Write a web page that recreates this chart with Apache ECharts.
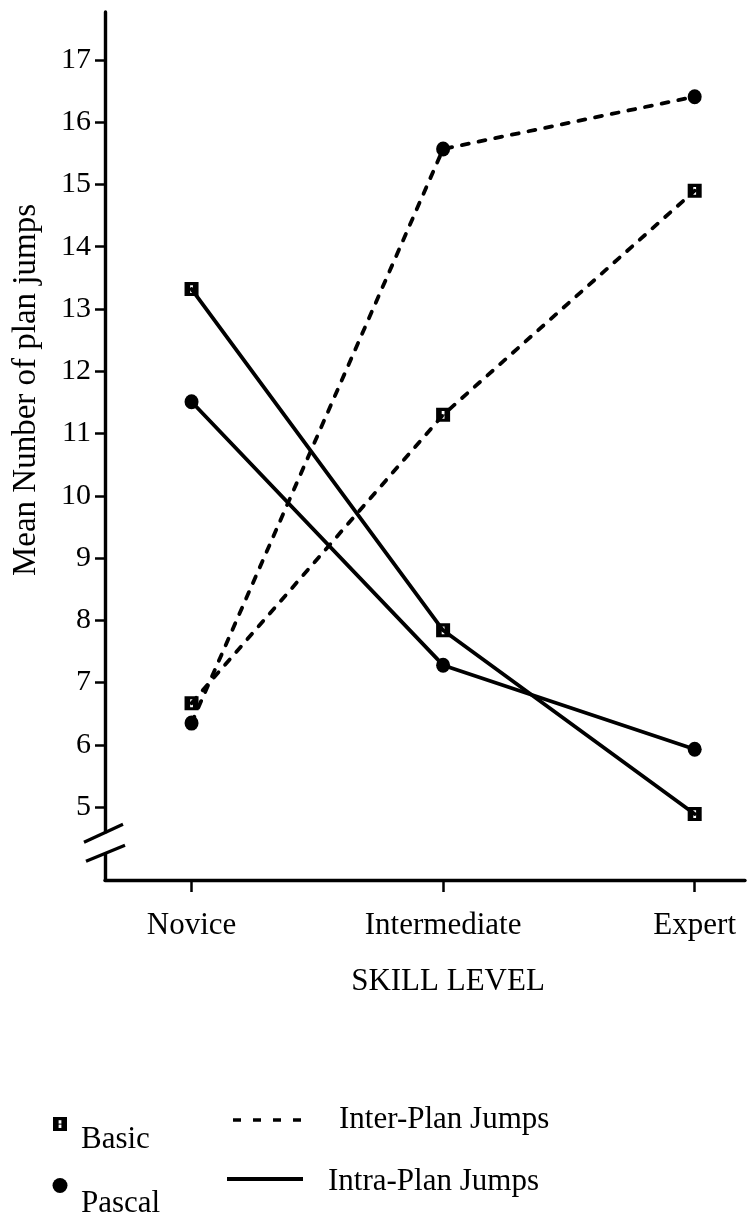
<!DOCTYPE html>
<html>
<head>
<meta charset="utf-8">
<script src="https://cdn.jsdelivr.net/npm/echarts@6/dist/echarts.min.js"></script>
<style>
  html, body { margin: 0; padding: 0; background: #fff; }
  #chart { width: 748px; height: 1231px; }
</style>
</head>
<body>
<div id="chart"></div>
<script>
// Skill levels on the horizontal axis
const skillLevels = ['Novice', 'Intermediate', 'Expert'];

// Mean number of plan jumps per skill level
const basicInter = [6.67, 11.3, 14.9];
const pascalInter = [6.35, 15.57, 16.41];
const basicIntra = [13.32, 7.84, 4.89];
const pascalIntra = [11.51, 7.28, 5.93];

// Labelled ticks on the vertical axis
const yTicks = [5, 6, 7, 8, 9, 10, 11, 12, 13, 14, 15, 16, 17];
const xTicks = [0, 1, 2];

const FONT = '"Liberation Serif", "Times New Roman", serif';
const INK = '#000';

const toPoints = (values) => values.map((v, i) => [i, v]);

// Square marker with a small hollow mark inside
const basicSymbol = 'path://M0,0H14V14H0Z M5.6,3.2V6.6H8.4V3.2Z M5.6,7.6V11H8.4V7.6Z';

const chart = echarts.init(document.getElementById('chart'), null, { renderer: 'canvas' });

function lineSeries(name, values, dashed, symbol) {
  const isBasic = symbol === 'basic';
  return {
    name: name,
    type: 'line',
    data: toPoints(values),
    symbol: isBasic ? basicSymbol : 'circle',
    symbolSize: isBasic ? [14, 14] : [14, 15],
    symbolKeepAspect: false,
    showAllSymbol: true,
    z: 3,
    lineStyle: { color: INK, width: 3.8, type: dashed ? [7, 10] : 'solid', cap: 'round' },
    itemStyle: { color: INK, borderWidth: 0 },
    emphasis: { disabled: true },
    animation: false
  };
}

const option = {
  backgroundColor: '#fff',
  animation: false,
  grid: { left: 105, right: 3, top: 12, bottom: 351, containLabel: false, outerBoundsMode: 'none' },
  xAxis: {
    type: 'value',
    min: -0.344,
    max: 2.2,
    axisLine: { show: true, onZero: false, lineStyle: { color: INK, width: 3.4 } },
    axisTick: { show: true, customValues: xTicks, length: 12, lineStyle: { color: INK, width: 2.5 } },
    axisLabel: {
      show: true,
      customValues: xTicks,
      formatter: (v) => skillLevels[Math.round(v)],
      color: INK, fontFamily: FONT, fontSize: 31, margin: 30
    },
    splitLine: { show: false },
    name: 'SKILL LEVEL',
    nameLocation: 'middle',
    nameGap: 86,
    nameTextStyle: { color: INK, fontFamily: FONT, fontSize: 31, padding: [0, 0, 0, 46] }
  },
  yAxis: {
    type: 'value',
    min: 3.83,
    max: 17.77,
    axisLine: { show: true, onZero: false, lineStyle: { color: INK, width: 3.4 } },
    axisTick: { show: true, customValues: yTicks, length: 10, lineStyle: { color: INK, width: 2.5 } },
    axisLabel: {
      show: true,
      customValues: yTicks,
      color: INK, fontFamily: FONT, fontSize: 30, margin: 14,
      padding: [0, 0, 8, 0]
    },
    splitLine: { show: false },
    name: 'Mean Nunber of plan jumps',
    nameLocation: 'middle',
    nameRotate: 90,
    nameGap: 62,
    nameTextStyle: { color: INK, fontFamily: FONT, fontSize: 33, padding: [0, 0, 0, 112] }
  },
  series: [
    lineSeries('Basic Inter-Plan Jumps', basicInter, true, 'basic'),
    lineSeries('Pascal Inter-Plan Jumps', pascalInter, true, 'pascal'),
    lineSeries('Basic Intra-Plan Jumps', basicIntra, false, 'basic'),
    lineSeries('Pascal Intra-Plan Jumps', pascalIntra, false, 'pascal')
  ]
};

chart.setOption(option);

// Axis break on the vertical axis, placed through the axis scale
const breakValue = 4.42;
const axisX = chart.convertToPixel({ xAxisIndex: 0 }, -0.344);
const breakY = chart.convertToPixel({ yAxisIndex: 0 }, breakValue);

const legendText = (id, text, x, y) => ({
  type: 'text', id: id, z: 10,
  style: { text: text, x: x, y: y, fill: INK, fontFamily: FONT, fontSize: 31, align: 'left', verticalAlign: 'middle' }
});

const graphics = [
  // gap in the axis line
  { type: 'rect', id: 'breakGap', z: 5,
    shape: { x: axisX - 5, y: breakY - 10, width: 10, height: 20 },
    style: { fill: '#fff' } },
  { type: 'line', id: 'breakUpper', z: 6,
    shape: { x1: axisX - 21, y1: breakY - 1, x2: axisX + 18, y2: breakY - 19 },
    style: { stroke: INK, lineWidth: 3.2 } },
  { type: 'line', id: 'breakLower', z: 6,
    shape: { x1: axisX - 19, y1: breakY + 18, x2: axisX + 20, y2: breakY + 2 },
    style: { stroke: INK, lineWidth: 3.2 } },

  // key: languages
  { type: 'rect', id: 'keyBasic', z: 10,
    shape: { x: 53, y: 1117, width: 14, height: 14 }, style: { fill: INK } },
  { type: 'rect', id: 'keyBasicMark1', z: 11,
    shape: { x: 58.6, y: 1120.2, width: 2.8, height: 3.4 }, style: { fill: '#fff' } },
  { type: 'rect', id: 'keyBasicMark2', z: 11,
    shape: { x: 58.6, y: 1124.6, width: 2.8, height: 3.4 }, style: { fill: '#fff' } },
  legendText('keyBasicText', 'Basic', 81, 1140),
  { type: 'circle', id: 'keyPascal', z: 10,
    shape: { cx: 60, cy: 1185.5, r: 7.5 }, style: { fill: INK } },
  legendText('keyPascalText', 'Pascal', 81, 1204),

  // key: line styles
  { type: 'line', id: 'keyInter', z: 10,
    shape: { x1: 233, y1: 1120, x2: 305, y2: 1120 },
    style: { stroke: INK, lineWidth: 3.5, lineDash: [8, 12] } },
  legendText('keyInterText', 'Inter-Plan Jumps', 339, 1120),
  { type: 'line', id: 'keyIntra', z: 10,
    shape: { x1: 227, y1: 1179, x2: 303, y2: 1179 },
    style: { stroke: INK, lineWidth: 3.8 } },
  legendText('keyIntraText', 'Intra-Plan Jumps', 328, 1182)
];

chart.setOption({ graphic: graphics });
</script>
</body>
</html>
